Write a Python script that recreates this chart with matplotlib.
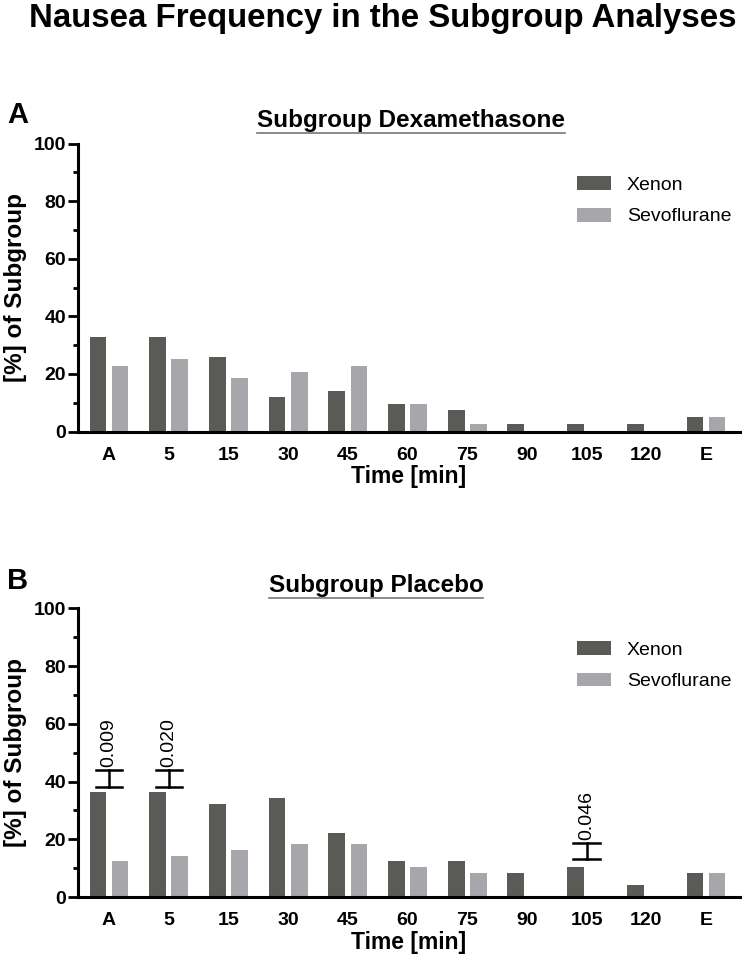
import numpy as np
import matplotlib
matplotlib.use('Agg')
import matplotlib.pyplot as plt
from matplotlib.lines import Line2D

plt.rcParams['font.family'] = ['Liberation Sans', 'DejaVu Sans']

time_labels = ['A', '5', '15', '30', '45', '60', '75', '90', '105', '120', 'E']

# subgroup dexamethasone, % of subgroup
dexa_xenon = [32.9, 32.9, 25.9, 11.9, 14.2, 9.5, 7.3, 2.5, 2.5, 2.5, 4.9]
dexa_sevo = [22.9, 25.3, 18.6, 20.8, 22.9, 9.5, 2.5, 0, 0, 0, 4.9]

# subgroup placebo, % of subgroup
placebo_xenon = [36.3, 36.3, 32.3, 34.3, 22.3, 12.4, 12.4, 8.4, 10.4, 4.3, 8.4]
placebo_sevo = [12.4, 14.2, 16.3, 18.4, 18.4, 10.4, 8.4, 0, 0, 0, 8.4]

# p-value brackets in placebo panel
p_index = [0, 1, 8]
p_low = [38.1, 38.1, 13.1]
p_high = [43.9, 43.9, 18.8]
p_text = ['0.009', '0.020', '0.046']

xenon_color = '#5a5b56'
sevo_color = '#a6a6ab'

W, H = 747, 960
fig = plt.figure(figsize=(W / 100, H / 100), dpi=100)

fig.text(383 / W, 1 - 27 / H, 'Nausea Frequency in the Subgroup Analyses',
         ha='center', va='baseline', fontsize=23.8, fontweight='bold')


def draw_panel(rect, xenon, sevo, letter, letter_base, subtitle, sub_x, sub_base):
    ax = fig.add_axes(rect)
    x = np.arange(len(time_labels))
    ax.bar(x - 0.185, xenon, width=0.28, color=xenon_color, label='Xenon', zorder=2)
    ax.bar(x + 0.185, sevo, width=0.28, color=sevo_color, label='Sevoflurane', zorder=2)

    ax.set_xlim(-0.52, 10.57)
    ax.set_ylim(0, 100)
    ax.set_yticks(range(0, 101, 20))
    ax.set_yticks(range(10, 100, 20), minor=True)
    ax.set_xticks(x)
    ax.set_xticklabels(time_labels)
    for s in ['top', 'right']:
        ax.spines[s].set_visible(False)
    for s in ['left', 'bottom']:
        ax.spines[s].set_linewidth(2.2)
        ax.spines[s].set_zorder(3)
    ax.tick_params(axis='y', which='major', length=7, width=2, pad=1.5, labelsize=14)
    ax.tick_params(axis='y', which='minor', length=3.5, width=2)
    ax.tick_params(axis='x', length=0, pad=11, labelsize=14)
    for lbl in ax.get_xticklabels() + ax.get_yticklabels():
        lbl.set_fontweight('bold')

    ax.set_ylabel('[%] of Subgroup', fontsize=17.5, fontweight='bold')
    ax.yaxis.set_label_coords(-0.077, 0.5)
    ax.set_xlabel('Time [min]', fontsize=16.5, fontweight='bold')
    ax.xaxis.set_label_coords(0.5, -0.118)

    ax.legend(loc='upper left', bbox_to_anchor=(0.754, 0.886), frameon=False,
              fontsize=14, handlelength=1.75, handleheight=0.72, handletextpad=0.8,
              labelspacing=0.7, borderpad=0, borderaxespad=0)

    fig.text(7 / W, 1 - letter_base / H, letter, ha='left', va='baseline',
             fontsize=21, fontweight='bold')
    t = fig.text(sub_x / W, 1 - sub_base / H, subtitle, ha='center', va='baseline',
                 fontsize=17.5, fontweight='bold')
    fig.canvas.draw()
    bb = t.get_window_extent()
    yline = 1 - (sub_base + 6) / H
    fig.add_artist(Line2D([bb.x0 / W, bb.x1 / W], [yline, yline],
                          transform=fig.transFigure, color='#777777', lw=1.2))
    return ax


ax_a = draw_panel([78 / W, 1 - 431.5 / H, 662 / W, 288 / H], dexa_xenon, dexa_sevo,
                  'A', 123, 'Subgroup Dexamethasone', 411, 127)
ax_b = draw_panel([78 / W, 1 - 897 / H, 662 / W, 288.7 / H], placebo_xenon, placebo_sevo,
                  'B', 589, 'Subgroup Placebo', 376, 592)

# significance brackets
for i, lo, hi, txt in zip(p_index, p_low, p_high, p_text):
    ax_b.plot([i, i], [lo, hi], color='black', lw=1.8, zorder=4)
    ax_b.plot([i - 0.22, i + 0.22], [lo, lo], color='black', lw=1.8, zorder=4)
    ax_b.plot([i - 0.22, i + 0.22], [hi, hi], color='black', lw=1.8, zorder=4)
    ax_b.text(i, hi + 1.0, txt, rotation=90, ha='center', va='bottom', fontsize=14,
              fontweight='medium')

fig.savefig('out.png', dpi=100)
